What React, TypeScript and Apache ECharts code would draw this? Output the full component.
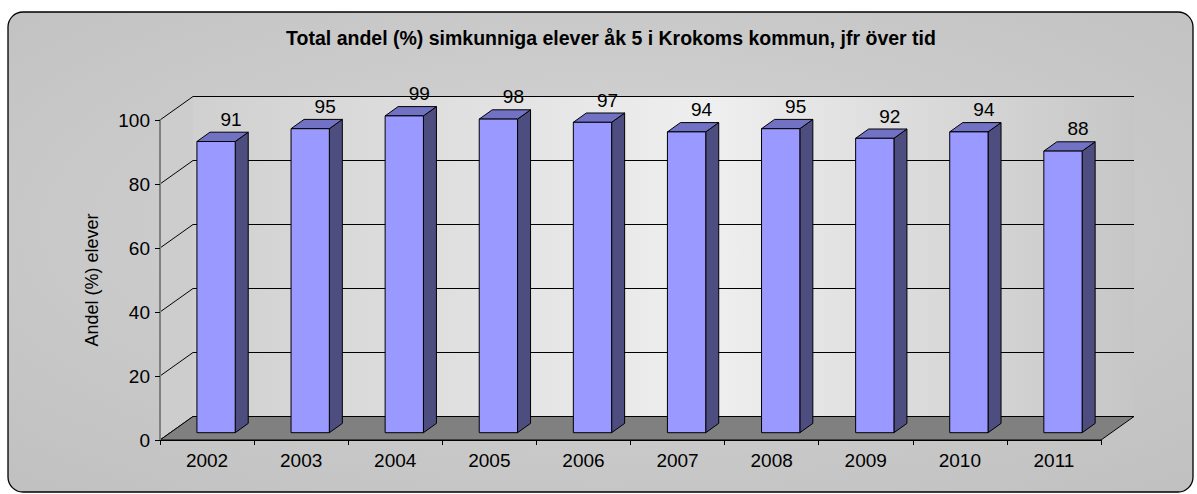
import React, { useEffect, useRef } from "react";
import * as echarts from "echarts";

const categories = ["2002", "2003", "2004", "2005", "2006", "2007", "2008", "2009", "2010", "2011"];
const values = [91, 95, 99, 98, 97, 94, 95, 92, 94, 88];
const yTicks = [0, 20, 40, 60, 80, 100];
const titleText = "Total andel (%) simkunniga elever åk 5 i Krokoms kommun, jfr över tid";
const yAxisName = "Andel (%) elever";

const FONT = "'Liberation Sans', Arial, sans-serif";
const DEPTH_X = 33;
const DEPTH_Y = -23.5;

export default function App() {
  const ref = useRef<HTMLDivElement>(null);
  useEffect(() => {
    document.body.style.margin = "0";
    const chart = echarts.init(ref.current!, undefined, { renderer: "svg" });
    const option: any = {
      animation: false,
      backgroundColor: "transparent",
      textStyle: { fontFamily: FONT },
      title: {
        text: titleText,
        left: 606,
        top: 23,
        textAlign: "center",
        textStyle: { fontFamily: FONT, fontSize: 19.5, fontWeight: "bold", color: "#000" },
      },
      graphic: [
        {
          type: "rect",
          z: -10,
          silent: true,
          shape: { x: 8, y: 12, width: 1185, height: 480, r: 15 },
          style: {
            fill: {
              type: "radial",
              x: 0.5,
              y: 0.45,
              r: 0.75,
              colorStops: [
                { offset: 0, color: "#d6d6d6" },
                { offset: 1, color: "#c0c0c0" },
              ],
            },
            stroke: "#000",
            lineWidth: 1.3,
          },
        },
      ],
      grid: { left: 160, right: 96, top: 120, bottom: 54, containLabel: false },
      xAxis: {
        type: "category",
        data: categories,
        z: 10,
        axisLine: { show: true, lineStyle: { color: "#000", width: 1 } },
        axisTick: { show: true, length: 5, lineStyle: { color: "#000" } },
        axisLabel: { color: "#000", fontSize: 19, fontFamily: FONT, margin: 11 },
        splitLine: { show: false },
      },
      yAxis: {
        type: "value",
        min: 0,
        max: 100,
        interval: 20,
        z: 10,
        name: yAxisName,
        nameLocation: "middle",
        nameGap: 59,
        nameRotate: 90,
        nameTextStyle: { color: "#000", fontSize: 18, fontFamily: FONT },
        axisLine: { show: true, lineStyle: { color: "#808080", width: 2 } },
        axisTick: { show: true, length: 5, lineStyle: { color: "#000" } },
        axisLabel: { color: "#000", fontSize: 19, fontFamily: FONT, margin: 10 },
        splitLine: { show: false },
      },
      series: [
        {
          type: "custom",
          name: "walls",
          silent: true,
          z: 1,
          data: [[0, 0]],
          renderItem: (params: any) => {
            const cs = params.coordSys;
            const x0 = cs.x, y0 = cs.y, y1 = cs.y + cs.height;
            return {
              type: "group",
              children: [
                {
                  type: "rect",
                  shape: { x: x0 + DEPTH_X, y: y0 + DEPTH_Y, width: cs.width, height: cs.height },
                  style: {
                    fill: {
                      type: "linear",
                      x: 0, y: 0, x2: 1, y2: 0,
                      colorStops: [
                        { offset: 0, color: "#d0d0d0" },
                        { offset: 0.55, color: "#efefef" },
                        { offset: 1, color: "#c6c6c6" },
                      ],
                    },
                  },
                },
                {
                  type: "polygon",
                  shape: {
                    points: [
                      [x0, y0],
                      [x0 + DEPTH_X, y0 + DEPTH_Y],
                      [x0 + DEPTH_X, y1 + DEPTH_Y],
                      [x0, y1],
                    ],
                  },
                  style: { fill: "#cdcdcd" },
                },
              ],
            };
          },
        },
        {
          type: "custom",
          name: "gridlines",
          silent: true,
          z: 2,
          data: yTicks.map((t) => [0, t]),
          renderItem: (params: any, api: any) => {
            const cs = params.coordSys;
            const y = api.coord([0, api.value(1)])[1];
            const x0 = cs.x;
            const x1 = cs.x + cs.width;
            return {
              type: "polyline",
              shape: {
                points: [
                  [x0, y],
                  [x0 + DEPTH_X, y + DEPTH_Y],
                  [x1 + DEPTH_X, y + DEPTH_Y],
                ],
              },
              style: { stroke: "#000", lineWidth: 1, fill: "none" },
            };
          },
        },
        {
          type: "custom",
          name: "floor",
          silent: true,
          z: 3,
          data: [[0, 0]],
          renderItem: (params: any) => {
            const cs = params.coordSys;
            const x0 = cs.x, x1 = cs.x + cs.width, yb = cs.y + cs.height;
            return {
              type: "polygon",
              shape: {
                points: [
                  [x0, yb],
                  [x1, yb],
                  [x1 + DEPTH_X, yb + DEPTH_Y],
                  [x0 + DEPTH_X, yb + DEPTH_Y],
                ],
              },
              style: { fill: "#808080", stroke: "#000", lineWidth: 1 },
            };
          },
        },
        {
          type: "custom",
          name: "Andel",
          z: 4,
          data: values.map((v, i) => [i, v]),
          renderItem: (params: any, api: any) => {
            const idx = api.value(0);
            const v = api.value(1);
            const base = api.coord([idx, 0]);
            const topPt = api.coord([idx, v]);
            const band = api.size([1, 0])[0];
            const w = band * 0.407;
            const ox = band * 0.096;
            const oy = -7.3;
            const dx = 13;
            const dy = -9.3;
            const left = base[0] + ox - w / 2;
            const right = left + w;
            const bottom = base[1] + oy;
            const top = topPt[1] + oy;
            const stroke = { stroke: "#000", lineWidth: 1 };
            return {
              type: "group",
              children: [
                {
                  type: "polygon",
                  shape: { points: [[right, top], [right + dx, top + dy], [right + dx, bottom + dy], [right, bottom]] },
                  style: { fill: "#4d4d80", ...stroke },
                },
                {
                  type: "polygon",
                  shape: { points: [[left, top], [left + dx, top + dy], [right + dx, top + dy], [right, top]] },
                  style: { fill: "#7272c4", ...stroke },
                },
                {
                  type: "rect",
                  shape: { x: left, y: top, width: w, height: bottom - top },
                  style: { fill: "#9999ff", ...stroke },
                },
                {
                  type: "text",
                  style: {
                    text: String(v),
                    x: (left + right) / 2 + dx + 2,
                    y: top + dy - 13,
                    align: "center",
                    verticalAlign: "middle",
                    fill: "#000",
                    fontSize: 19,
                    fontFamily: FONT,
                  },
                },
              ],
            };
          },
        },
      ],
    };
    chart.setOption(option);
    return () => chart.dispose();
  }, []);
  return <div ref={ref} style={{ width: 1197, height: 494 }} />;
}
